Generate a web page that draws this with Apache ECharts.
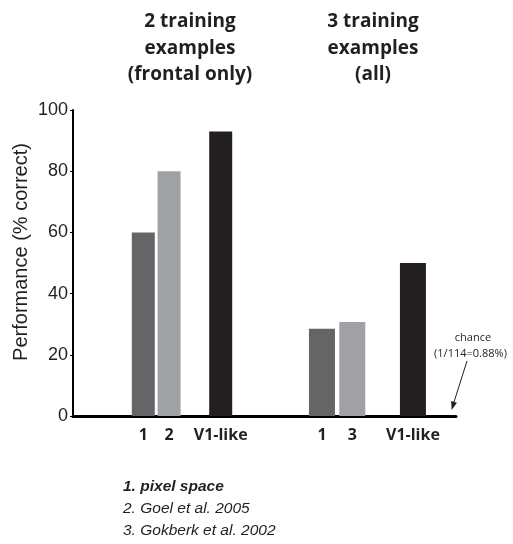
<!DOCTYPE html>
<html>
<head>
<meta charset="utf-8">
<script src="https://cdn.jsdelivr.net/npm/echarts@6/dist/echarts.min.js"></script>
<style>
html,body{margin:0;padding:0;background:#fff;}
#chart{width:513px;height:544px;}
</style>
</head>
<body>
<div id="chart"></div>
<script>
// ---- data ----
const categoriesA = ['1', '2', '', 'V1-like'];
const valuesA = [60, 80, null, 93];
const categoriesB = ['1', '3', '', 'V1-like'];
const valuesB = [28.5, 30.7, null, 50];
const yTicks = [0, 20, 40, 60, 80, 100];
const titleA = ['2 training', 'examples', '(frontal only)'];
const titleB = ['3 training', 'examples', '(all)'];
const yAxisName = 'Performance (% correct)';
const legendItems = ['1. pixel space', '2. Goel et al. 2005', '3. Gokberk et al. 2002'];
const chanceNote = ['chance', '(1/114=0.88%)'];

// ---- styles ----
const slotColors = ['#656567', '#a0a1a4', '#ffffff', '#231f20'];
const ink = '#231f20';
const titleFont = '"Open Sans", sans-serif';
const arialFont = '"Liberation Sans", Arial, sans-serif';

const chart = echarts.init(document.getElementById('chart'));

const plotTop = 110, plotBottom = 128;

function barData(vals) {
  return vals.map((v, i) => ({ value: v, itemStyle: { color: slotColors[i] } }));
}
function catAxis(grid, cats) {
  return {
    type: 'category', gridIndex: grid, data: cats,
    axisLine: { show: false }, axisTick: { show: false },
    axisLabel: { interval: 0, fontFamily: titleFont, fontWeight: 'bold', fontSize: 16, color: ink, margin: 11 }
  };
}
function hiddenY(grid) {
  return { type: 'value', gridIndex: grid, min: 0, max: 100, interval: 20, show: false, splitLine: { show: false } };
}

const graphics = [];
titleA.forEach((t, i) => graphics.push({
  type: 'text', x: 190, y: 22 + i * 26.5,
  style: { text: t, fill: ink, font: 'bold 19px ' + titleFont, textAlign: 'center', textVerticalAlign: 'middle' }
}));
titleB.forEach((t, i) => graphics.push({
  type: 'text', x: 373, y: 22 + i * 26.5,
  style: { text: t, fill: ink, font: 'bold 19px ' + titleFont, textAlign: 'center', textVerticalAlign: 'middle' }
}));
graphics.push({
  type: 'text', x: 21, y: 252, rotation: Math.PI / 2,
  style: { text: yAxisName, fill: ink, font: '20px ' + arialFont, textAlign: 'center', textVerticalAlign: 'middle' }
});
legendItems.forEach((t, i) => graphics.push({
  type: 'text', x: 123, y: 487 + i * 22,
  style: { text: t, fill: ink, font: (i === 0 ? 'italic bold ' : 'italic ') + '15.5px ' + arialFont, textAlign: 'left', textVerticalAlign: 'middle' }
}));
graphics.push({
  type: 'text', x: 473, y: 338,
  style: { text: chanceNote[0], fill: ink, font: '11px ' + titleFont, textAlign: 'center', textVerticalAlign: 'middle' }
});
graphics.push({
  type: 'text', x: 470.5, y: 354,
  style: { text: chanceNote[1], fill: ink, font: '11px ' + titleFont, textAlign: 'center', textVerticalAlign: 'middle' }
});
graphics.push({
  type: 'line', shape: { x1: 467, y1: 361, x2: 454, y2: 402 },
  style: { stroke: ink, lineWidth: 1 }
});
graphics.push({
  type: 'polygon', shape: { points: [[451.7, 410], [456.9, 402.7], [451.1, 400.9]] },
  style: { fill: ink }
});

chart.setOption({
  animation: false,
  backgroundColor: '#ffffff',
  grid: [
    { left: 73, right: 57, top: plotTop, bottom: plotBottom },
    { left: 130.4, width: 103.2, top: plotTop, bottom: plotBottom },
    { left: 306.8, width: 121.3, top: plotTop, bottom: plotBottom }
  ],
  xAxis: [
    { type: 'value', gridIndex: 0, min: 0, max: 1,
      axisLine: { show: true, lineStyle: { color: '#000', width: 3 } },
      axisTick: { show: false }, axisLabel: { show: false }, splitLine: { show: false } },
    catAxis(1, categoriesA),
    catAxis(2, categoriesB)
  ],
  yAxis: [
    { type: 'value', gridIndex: 0, min: yTicks[0], max: yTicks[yTicks.length - 1], interval: 20,
      axisLine: { show: true, lineStyle: { color: '#000', width: 2 } },
      axisTick: { show: true, length: 3, lineStyle: { color: '#000', width: 1 } },
      axisLabel: { fontFamily: arialFont, fontSize: 18, color: ink, margin: 5 },
      splitLine: { show: false } },
    hiddenY(1),
    hiddenY(2)
  ],
  series: [
    { type: 'bar', xAxisIndex: 1, yAxisIndex: 1, barWidth: 23, data: barData(valuesA) },
    { type: 'bar', xAxisIndex: 2, yAxisIndex: 2, barWidth: 26, data: barData(valuesB) }
  ],
  graphic: graphics
});
</script>
</body>
</html>
